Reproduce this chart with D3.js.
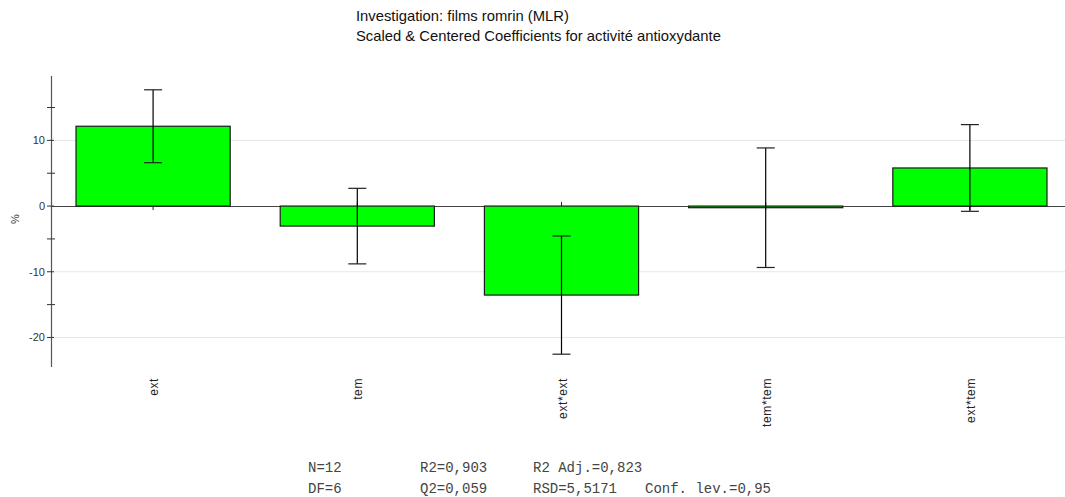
<!DOCTYPE html>
<html>
<head>
<meta charset="utf-8">
<script src="https://cdn.jsdelivr.net/npm/d3@7"></script>
<style>
  html, body { margin: 0; padding: 0; background: #fff; }
  svg { display: block; }
  text { font-family: Arial, "Liberation Sans", sans-serif; }
  .stats text { font-family: "Courier New", "Liberation Mono", monospace; }
</style>
</head>
<body>
<svg id="chart" width="1065" height="497"></svg>
<script>
// Model terms and their scaled & centered coefficients (%)
const terms = ["ext", "tem", "ext*ext", "tem*tem", "ext*tem"];
const coefficients = [12.15, -3.05, -13.55, -0.25, 5.8];
// Half-width of the 95% confidence interval of each coefficient
const confInterval = [5.55, 5.75, 9.0, 9.1, 6.6];

const yMajorTicks = [-20, -10, 0, 10];
const yMinorTicks = [-15, -5, 5, 15];

const titleLines = [
  "Investigation: films romrin (MLR)",
  "Scaled & Centered Coefficients for activité antioxydante"
];
const statsRows = [
  ["N=12", "R2=0,903", "R2 Adj.=0,823", ""],
  ["DF=6", "Q2=0,059", "RSD=5,5171", "Conf. lev.=0,95"]
];

const svg = d3.select("#chart");
const plot = { left: 51, right: 1072, top: 76, bottom: 367 };

const x = d3.scaleBand()
  .domain(terms)
  .range([plot.left, plot.right])
  .paddingInner(0.245)
  .paddingOuter(0.1225);

const y = d3.scaleLinear()
  .domain([-24.5, 19.8])
  .range([plot.bottom, plot.top]);

// Light horizontal grid at the labelled values
svg.append("g")
  .selectAll("line")
  .data(yMajorTicks.filter(v => v !== 0))
  .join("line")
  .attr("x1", plot.left).attr("x2", plot.right)
  .attr("y1", d => y(d)).attr("y2", d => y(d))
  .attr("stroke", "#e6e6e6").attr("stroke-width", 1);

// Small category ticks on the zero line
svg.append("g")
  .selectAll("line")
  .data(terms)
  .join("line")
  .attr("x1", d => x(d) + x.bandwidth() / 2)
  .attr("x2", d => x(d) + x.bandwidth() / 2)
  .attr("y1", y(0) - 4).attr("y2", y(0) + 4)
  .attr("stroke", "#222").attr("stroke-width", 1);

// Zero line
svg.append("line")
  .attr("x1", plot.left).attr("x2", plot.right)
  .attr("y1", Math.round(y(0)) + 0.5).attr("y2", Math.round(y(0)) + 0.5)
  .attr("stroke", "#444").attr("stroke-width", 1);

// Coefficient bars
svg.append("g")
  .selectAll("rect")
  .data(terms.map((t, i) => ({ t, v: coefficients[i] })))
  .join("rect")
  .attr("x", d => x(d.t))
  .attr("width", x.bandwidth())
  .attr("y", d => Math.min(y(d.v), y(0)))
  .attr("height", d => Math.max(Math.abs(y(d.v) - y(0)), 1))
  .attr("fill", "#00ff00")
  .attr("stroke", "#1a1a1a")
  .attr("stroke-width", 1.2);

// Confidence interval error bars
const eb = svg.append("g")
  .selectAll("g")
  .data(terms.map((t, i) => ({ t, v: coefficients[i], c: confInterval[i] })))
  .join("g")
  .attr("transform", d => `translate(${x(d.t) + x.bandwidth() / 2},0)`);
eb.append("line")
  .attr("x1", 0).attr("x2", 0)
  .attr("y1", d => y(d.v + d.c)).attr("y2", d => y(d.v - d.c))
  .attr("stroke", "#000").attr("stroke-width", 1.2);
eb.selectAll(".cap")
  .data(d => [d.v + d.c, d.v - d.c])
  .join("line")
  .attr("class", "cap")
  .attr("x1", -9).attr("x2", 9)
  .attr("y1", d => y(d)).attr("y2", d => y(d))
  .attr("stroke", "#222").attr("stroke-width", 1.2);

// Y axis
const yAxis = svg.append("g");
yAxis.append("line")
  .attr("x1", plot.left + 0.5).attr("x2", plot.left + 0.5)
  .attr("y1", plot.top).attr("y2", plot.bottom)
  .attr("stroke", "#555").attr("stroke-width", 1.2);
yAxis.selectAll(".major")
  .data(yMajorTicks)
  .join("line")
  .attr("class", "major")
  .attr("x1", plot.left - 4).attr("x2", plot.left + 3)
  .attr("y1", d => y(d)).attr("y2", d => y(d))
  .attr("stroke", "#333");
yAxis.selectAll(".minor")
  .data(yMinorTicks)
  .join("line")
  .attr("class", "minor")
  .attr("x1", plot.left - 4).attr("x2", plot.left + 4)
  .attr("y1", d => y(d)).attr("y2", d => y(d))
  .attr("stroke", "#333");
yAxis.selectAll("text")
  .data(yMajorTicks)
  .join("text")
  .attr("x", plot.left - 6)
  .attr("y", d => y(d) + 4)
  .attr("text-anchor", "end")
  .attr("font-size", 11)
  .attr("fill", "#333")
  .text(d => d);

// Y axis title
svg.append("text")
  .attr("transform", `translate(19,${y(-2)}) rotate(-90)`)
  .attr("text-anchor", "middle")
  .attr("font-size", 11)
  .attr("fill", "#333")
  .text("%");

// Category labels, rotated
svg.append("g")
  .selectAll("text")
  .data(terms)
  .join("text")
  .attr("transform", d => `translate(${x(d) + x.bandwidth() / 2 + 5},378) rotate(-90)`)
  .attr("text-anchor", "end")
  .attr("font-size", 12)
  .attr("letter-spacing", 0.6)
  .attr("fill", "#222")
  .text(d => d);

// Title
svg.append("g")
  .selectAll("text")
  .data(titleLines)
  .join("text")
  .attr("x", 356)
  .attr("y", (d, i) => 21 + i * 20)
  .attr("font-size", 14.8)
  .attr("fill", "#111")
  .text(d => d);

// Model statistics
const statCols = [308, 420, 533, 645];
const stats = svg.append("g").attr("class", "stats");
statsRows.forEach((row, r) => {
  row.forEach((s, c) => {
    stats.append("text")
      .attr("x", statCols[c])
      .attr("y", 472 + r * 21)
      .attr("font-size", 14)
      .attr("fill", "#444")
      .text(s);
  });
});
</script>
</body>
</html>
